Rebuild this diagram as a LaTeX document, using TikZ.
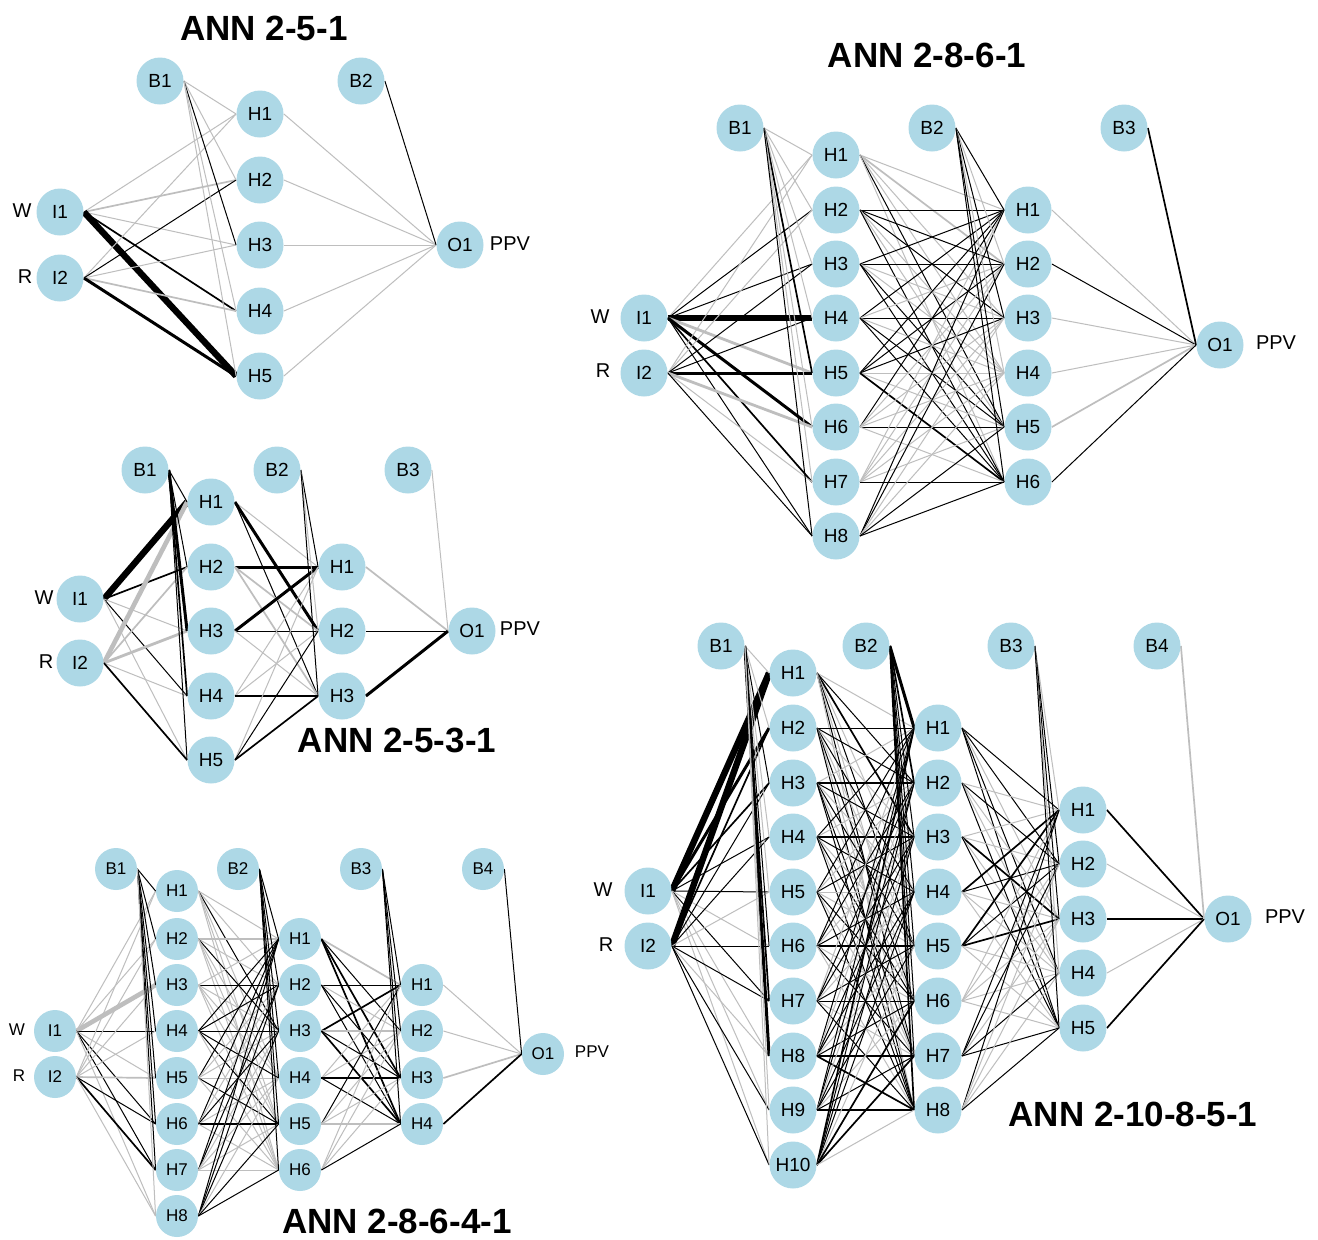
\documentclass[tikz,border=0pt]{standalone}
\usepackage{fontspec}
\setmainfont{Liberation Sans}
\pgfdeclarelayer{bg}
\pgfsetlayers{bg,main}
\definecolor{nodeblue}{HTML}{ADD8E6}
\definecolor{edgegrey}{HTML}{BEBEBE}
\newcommand\annrow[3]{\foreach \st [count=\jj] in {#3} {\draw[\st] (#1.east) -- (#2\jj.west);}}
\newcommand\anncol[3]{\foreach \st [count=\jj] in {#3} {\draw[\st] (#1\jj.east) -- (#2.west);}}
\tikzset{
 nd/.style={circle,fill=nodeblue,minimum size=23.5pt,inner sep=0pt,font=\fontsize{9.5}{10}\selectfont},
 nds/.style={nd,minimum size=21pt,font=\fontsize{8.5}{9}\selectfont},
 lbl/.style={inner sep=0pt,font=\fontsize{10}{11}\selectfont},
 lbls/.style={inner sep=0pt,font=\fontsize{8.5}{9}\selectfont},
 ttl/.style={inner sep=0pt,font=\bfseries\fontsize{17.5}{19}\selectfont},
 ka/.style={draw=black,line width=0.5pt},
 kb/.style={draw=black,line width=0.85pt},
 kc/.style={draw=black,line width=1.5pt},
 kd/.style={draw=black,line width=3.2pt},
 ga/.style={draw=edgegrey,line width=0.5pt},
 gb/.style={draw=edgegrey,line width=0.85pt},
 gc/.style={draw=edgegrey,line width=1.4pt},
 gd/.style={draw=edgegrey,line width=2.3pt}
}
\begin{document}
\begin{tikzpicture}[x=0.5pt,y=-0.5pt]
\useasboundingbox (0,0) rectangle (1318,1239);
\begin{pgfonlayer}{bg}
\fill[white] (0,0) rectangle (1318,1239);
\end{pgfonlayer}

% ================= ANN 2-5-1 =================
\node[ttl] (pt) at (264,28) {ANN 2-5-1};
\node[nd] (pb1) at (160,81) {B1};
\node[nd] (pb2) at (361,81) {B2};
\node[nd] (pi1) at (60,212) {I1};
\node[nd] (pi2) at (60,278) {I2};
\foreach \y [count=\k] in {114,180,245,311,376} \node[nd] (ph\k) at (260,\y) {H\k};
\node[nd] (po1) at (460,245) {O1};
\node[lbl] (pw) at (22,211) {W};
\node[lbl] (pr) at (25,277) {R};
\node[lbl] (pp) at (510,244) {PPV};
\begin{pgfonlayer}{bg}
\annrow{pi1}{ph}{ga,gb,ga,kb,kd}
\annrow{pi2}{ph}{ga,ka,ga,gb,kc}
\annrow{pb1}{ph}{ga,ga,ka,ga,ga}
\anncol{ph}{po1}{ga,ga,ga,ga,ga}
\draw[ka] (pb2.east) -- (po1.west);
\end{pgfonlayer}

% ================= ANN 2-5-3-1 =================
\node[ttl] (qt) at (397,740) {ANN 2-5-3-1};
\node[nd] (qb1) at (145,470) {B1};
\node[nd] (qb2) at (277,470) {B2};
\node[nd] (qb3) at (408,470) {B3};
\node[nd] (qi1) at (80,599) {I1};
\node[nd] (qi2) at (80,663) {I2};
\foreach \y [count=\k] in {502,567,631,696,760} \node[nd] (qh\k) at (211,\y) {H\k};
\foreach \y [count=\k] in {567,631,696} \node[nd] (qj\k) at (342,\y) {H\k};
\node[nd] (qo1) at (472,631) {O1};
\node[lbl] (qw) at (44,598) {W};
\node[lbl] (qr) at (46,662) {R};
\node[lbl] (qp) at (520,629) {PPV};
\begin{pgfonlayer}{bg}
\annrow{qi1}{qh}{kd,kb,ga,ka,ga}
\annrow{qi2}{qh}{gd,gb,gc,ga,kb}
\annrow{qb1}{qh}{ka,ka,kc,kb,ka}
\annrow{qh1}{qj}{ga,kc,ka}
\annrow{qh2}{qj}{kc,gb,gb}
\annrow{qh3}{qj}{kc,ka,ga}
\annrow{qh4}{qj}{ga,ga,kb}
\annrow{qh5}{qj}{ga,ka,kb}
\annrow{qb2}{qj}{ka,ga,ka}
\anncol{qj}{qo1}{gb,ka,kc}
\draw[ga] (qb3.east) -- (qo1.west);
\end{pgfonlayer}

% ================= ANN 2-8-6-1 =================
\node[ttl] (rt) at (927,55) {ANN 2-8-6-1};
\node[nd] (rb1) at (740,128) {B1};
\node[nd] (rb2) at (932,128) {B2};
\node[nd] (rb3) at (1124,128) {B3};
\node[nd] (ri1) at (644,318) {I1};
\node[nd] (ri2) at (644,373) {I2};
\foreach \y [count=\k] in {155,210,264,318,373,427,482,536} \node[nd] (rh\k) at (836,\y) {H\k};
\foreach \y [count=\k] in {210,264,318,373,427,482} \node[nd] (rj\k) at (1028,\y) {H\k};
\node[nd] (ro1) at (1220,345) {O1};
\node[lbl] (rw) at (600,317) {W};
\node[lbl] (rr) at (603,371) {R};
\node[lbl] (rp) at (1276,343) {PPV};
\begin{pgfonlayer}{bg}
\annrow{ri1}{rh}{ga,ka,ka,kd,gc,kc,kb,ka}
\annrow{ri2}{rh}{ga,ga,ka,ka,kc,gc,ga,ka}
\annrow{rb1}{rh}{ga,ga,ga,ga,kb,ga,ga,ka}
\annrow{rh1}{rj}{ga,gb,ga,ga,ka,ga}
\annrow{rh2}{rj}{ka,ka,ka,ga,ga,ka}
\annrow{rh3}{rj}{ka,ka,ga,ga,ka,ka}
\annrow{rh4}{rj}{ka,ga,ka,ga,ka,ka}
\annrow{rh5}{rj}{ka,ka,ka,ga,ga,kb}
\annrow{rh6}{rj}{ka,ga,ga,ga,ka,ga}
\annrow{rh7}{rj}{ga,ga,ga,ga,ga,ka}
\annrow{rh8}{rj}{ka,ka,ga,ga,ka,ka}
\annrow{rb2}{rj}{ka,ga,ka,ga,ka,ka}
\anncol{rj}{ro1}{ga,ka,ga,ga,gb,ka}
\draw[kb] (rb3.east) -- (ro1.west);
\end{pgfonlayer}

% ================= ANN 2-8-6-4-1 =================
\node[ttl] (st) at (397,1221) {ANN 2-8-6-4-1};
\node[nds] (sb1) at (116,869) {B1};
\node[nds] (sb2) at (238,869) {B2};
\node[nds] (sb3) at (361,869) {B3};
\node[nds] (sb4) at (483,869) {B4};
\node[nds] (si1) at (55,1031) {I1};
\node[nds] (si2) at (55,1077) {I2};
\foreach \y [count=\k] in {891,939,985,1031,1078,1124,1170,1216} \node[nds] (sh\k) at (177,\y) {H\k};
\foreach \y [count=\k] in {939,985,1031,1078,1124,1170} \node[nds] (sj\k) at (300,\y) {H\k};
\foreach \y [count=\k] in {985,1031,1078,1124} \node[nds] (sm\k) at (422,\y) {H\k};
\node[nds] (so1) at (543,1054) {O1};
\node[lbls] (sw) at (17,1030) {W};
\node[lbls] (sr) at (19,1076) {R};
\node[lbls] (sp) at (592,1052) {PPV};
\begin{pgfonlayer}{bg}
\annrow{si1}{sh}{ga,ga,gd,ka,ga,ka,ka,ga}
\annrow{si2}{sh}{ga,ga,ga,ga,gb,ka,kb,ga}
\annrow{sb1}{sh}{ka,ka,ka,ka,ka,ka,ka,ga}
\annrow{sh1}{sj}{ga,ga,ka,ga,ga,ga}
\annrow{sh2}{sj}{gc,ga,ka,ga,ga,ga}
\annrow{sh3}{sj}{ga,ka,ga,ga,ga,ga}
\annrow{sh4}{sj}{ka,ka,ka,ka,ka,ga}
\annrow{sh5}{sj}{ka,ga,ga,ga,ka,ga}
\annrow{sh6}{sj}{ka,ga,ka,ga,kb,ga}
\annrow{sh7}{sj}{ka,ka,ga,ga,ga,ga}
\annrow{sh8}{sj}{ka,ka,ka,ga,ka,ka}
\annrow{sb2}{sj}{ka,ka,ka,ka,ka,ka}
\annrow{sj1}{sm}{gb,ka,kb,kb}
\annrow{sj2}{sm}{ka,ga,ka,ka}
\annrow{sj3}{sm}{kb,gb,ka,kb}
\annrow{sj4}{sm}{ga,ga,kb,ka}
\annrow{sj5}{sm}{ka,ga,ga,gb}
\annrow{sj6}{sm}{ga,ga,ga,ka}
\annrow{sb3}{sm}{ka,ka,ka,ka}
\anncol{sm}{so1}{ga,ga,gb,kb}
\draw[ka] (sb4.east) -- (so1.west);
\end{pgfonlayer}

% ================= ANN 2-10-8-5-1 =================
\node[ttl] (tt) at (1133,1114) {ANN 2-10-8-5-1};
\node[nd] (tb1) at (721,646) {B1};
\node[nd] (tb2) at (866,646) {B2};
\node[nd] (tb3) at (1011,646) {B3};
\node[nd] (tb4) at (1157,646) {B4};
\node[nd] (ti1) at (648,891) {I1};
\node[nd] (ti2) at (648,946) {I2};
\foreach \y [count=\k] in {673,728,783,837,892,946,1001,1056,1110,1165} \node[nd] (th\k) at (793,\y) {H\k};
\foreach \y [count=\k] in {728,783,837,892,946,1001,1056,1110} \node[nd] (tj\k) at (938,\y) {H\k};
\foreach \y [count=\k] in {810,864,919,973,1028} \node[nd] (tm\k) at (1083,\y) {H\k};
\node[nd] (to1) at (1228,919) {O1};
\node[lbl] (tw) at (603,890) {W};
\node[lbl] (tr) at (606,945) {R};
\node[lbl] (tp) at (1285,917) {PPV};
\begin{pgfonlayer}{bg}
\annrow{ti1}{th}{kd,kc,kb,ka,ka,ga,ka,ga,ga,ga}
\annrow{ti2}{th}{kd,kb,ka,ka,ga,ka,ka,ga,ka,ka}
\annrow{tb1}{th}{ga,ga,ka,ga,ga,ka,kb,kc,ga,ga}
\annrow{th1}{tj}{ga,ka,kb,ga,ka,ga,ka,ga}
\annrow{th2}{tj}{ka,ka,ga,ka,ga,ka,ga,ka}
\annrow{th3}{tj}{ga,kb,ka,ga,ka,ga,ka,ka}
\annrow{th4}{tj}{ka,ga,kb,ka,ga,ka,ga,ka}
\annrow{th5}{tj}{ka,ga,ka,ga,ga,ka,ga,ka}
\annrow{th6}{tj}{ka,ka,ga,ka,kb,ga,ka,ga}
\annrow{th7}{tj}{ga,ka,ka,ga,ka,ka,ga,ka}
\annrow{th8}{tj}{ka,ga,ka,ka,ga,ka,kb,kb}
\annrow{th9}{tj}{ka,ka,ga,ka,ka,ga,ka,kb}
\annrow{th10}{tj}{kb,ka,ka,ka,ga,kb,kb,ga}
\annrow{tb2}{tj}{kc,kb,ka,ka,ka,ka,ka,kb}
\annrow{tj1}{tm}{ka,ka,ga,ka,ka}
\annrow{tj2}{tm}{ga,ka,ga,ga,ka}
\annrow{tj3}{tm}{ga,ga,kb,ga,ka}
\annrow{tj4}{tm}{kb,ka,ga,ga,ga}
\annrow{tj5}{tm}{kb,ka,kb,ga,ga}
\annrow{tj6}{tm}{ga,ga,ga,ga,ga}
\annrow{tj7}{tm}{ka,ka,ga,ka,ka}
\annrow{tj8}{tm}{ka,ga,ga,ga,ka}
\annrow{tb3}{tm}{ga,ka,ka,ga,ka}
\anncol{tm}{to1}{kb,ga,kb,ga,kb}
\draw[gb] (tb4.east) -- (to1.west);
\end{pgfonlayer}
\end{tikzpicture}
\end{document}
